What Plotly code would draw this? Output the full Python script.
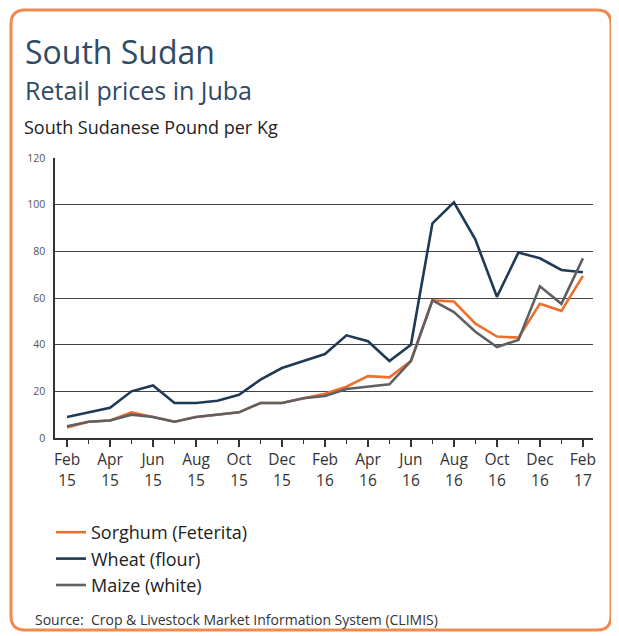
import plotly.graph_objects as go

months = list(range(25))
tick_vals = [0, 2, 4, 6, 8, 10, 12, 14, 16, 18, 20, 22, 24]
tick_text = ["Feb<br>15", "Apr<br>15", "Jun<br>15", "Aug<br>15", "Oct<br>15", "Dec<br>15",
             "Feb<br>16", "Apr<br>16", "Jun<br>16", "Aug<br>16", "Oct<br>16", "Dec<br>16", "Feb<br>17"]

sorghum = [4.5, 7, 7.5, 11, 9, 7, 9, 10, 11, 15, 15, 17, 19, 22, 26.5, 26, 33, 59, 58.5, 49, 43.5, 43, 57.5, 54.5, 69.5]
wheat = [9, 11, 13, 20, 22.5, 15, 15, 16, 18.5, 25, 30, 33, 36, 44, 41.5, 33, 40, 92, 101, 85, 60.5, 79.5, 77, 72, 71]
maize = [5, 7, 7.5, 10, 9, 7, 9, 10, 11, 15, 15, 17, 18, 21, 22, 23, 33, 59, 54, 45.5, 39, 42, 65, 57.5, 77]

ORANGE = "#ec6f2d"
NAVY = "#1f3a55"
GREY = "#5e6064"
TITLE = "#2f4b66"

fig = go.Figure()
fig.add_trace(go.Scatter(x=months, y=wheat, name="Wheat (flour)", mode="lines",
                         line=dict(color=NAVY, width=2.6), legendrank=2))
fig.add_trace(go.Scatter(x=months, y=sorghum, name="Sorghum (Feterita)", mode="lines",
                         line=dict(color=ORANGE, width=2.6), legendrank=1))
fig.add_trace(go.Scatter(x=months, y=maize, name="Maize (white)", mode="lines",
                         line=dict(color=GREY, width=2.6), legendrank=3))

# page offset (body margin) and plot area geometry in screen pixels
OFF = 8
L, R, T, B = 55, 593, 158, 438
W, H = 619, 636

def px(x):
    return (x - L) / (R - L)

def py(y):
    return (B - y) / (B - T)

# rounded orange frame
x0, x1, y0, y1, r = 11, 611, 10, 630, 14
path = (f"M {px(x0 + r)},{py(y0)} L {px(x1 - r)},{py(y0)} "
        f"Q {px(x1)},{py(y0)} {px(x1)},{py(y0 + r)} "
        f"L {px(x1)},{py(y1 - r)} Q {px(x1)},{py(y1)} {px(x1 - r)},{py(y1)} "
        f"L {px(x0 + r)},{py(y1)} Q {px(x0)},{py(y1)} {px(x0)},{py(y1 - r)} "
        f"L {px(x0)},{py(y0 + r)} Q {px(x0)},{py(y0)} {px(x0 + r)},{py(y0)} Z")

fig.add_shape(type="path", path=path, xref="paper", yref="paper",
              line=dict(color="#f08a4e", width=3), layer="below")

font = "Open Sans, Noto Sans, sans-serif"

fig.add_annotation(text="South Sudan", xref="paper", yref="paper", x=px(23), y=py(51),
                   xanchor="left", yanchor="middle", showarrow=False,
                   font=dict(family=font, size=32, color=TITLE))
fig.add_annotation(text="Retail prices in Juba", xref="paper", yref="paper", x=px(23), y=py(90),
                   xanchor="left", yanchor="middle", showarrow=False,
                   font=dict(family=font, size=25, color=TITLE))
fig.add_annotation(text="South Sudanese Pound per Kg", xref="paper", yref="paper", x=px(22), y=py(127),
                   xanchor="left", yanchor="middle", showarrow=False,
                   font=dict(family=font, size=18, color="#222222"))
fig.add_annotation(text="Source:  Crop & Livestock Market Information System (CLIMIS)", xref="paper", yref="paper",
                   x=px(33), y=py(619), xanchor="left", yanchor="middle", showarrow=False,
                   font=dict(family=font, size=14, color="#333333"))

fig.update_layout(
    width=W - OFF, height=H - OFF,
    margin=dict(l=L - OFF, r=(W - OFF) - (R - OFF), t=T - OFF, b=(H - OFF) - (B - OFF), pad=0),
    paper_bgcolor="white", plot_bgcolor="white",
    font=dict(family=font),
    showlegend=True,
    legend=dict(x=px(51), y=py(514), xanchor="left", yanchor="top",
                font=dict(family=font, size=18, color="#222222"),
                bgcolor="rgba(0,0,0,0)", tracegroupgap=0),
    xaxis=dict(range=[-0.56, 24.47], tickmode="array", tickvals=tick_vals, ticktext=tick_text,
               showgrid=False, zeroline=False, showline=True, linecolor="#333333", linewidth=1.5,
               ticks="outside", ticklen=7, tickcolor="#333333", tickwidth=1.5,
               minor=dict(ticks="outside", ticklen=4, tickcolor="#333333", tickwidth=1, dtick=1, tick0=0),
               tickfont=dict(family=font, size=15.5, color="#333333")),
    yaxis=dict(range=[0, 120], tickvals=[0, 20, 40, 60, 80, 100, 120],
               showgrid=True, gridcolor="#444444", gridwidth=1, zeroline=False,
               showline=True, linecolor="#333333", linewidth=1.5, ticks="",
               tickfont=dict(family=font, size=10.5, color="#555555"), ticklabelstandoff=6),
)

fig.write_html("out.html")
